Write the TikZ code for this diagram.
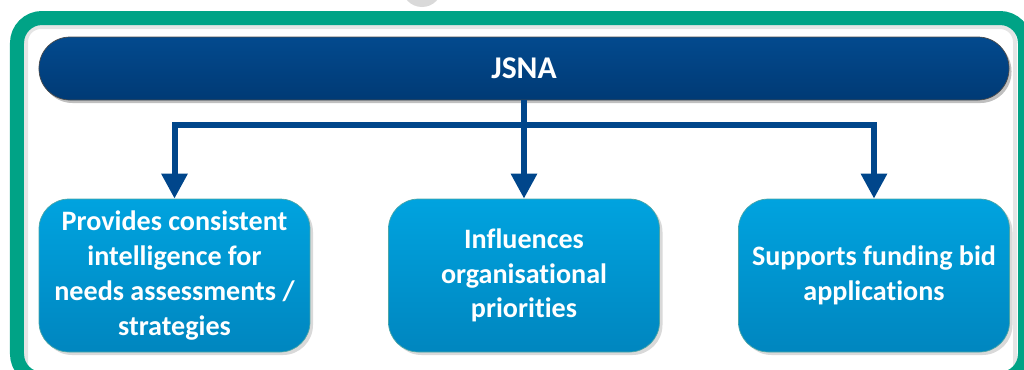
\documentclass[tikz,border=0pt]{standalone}
\usepackage{fontspec}
\setmainfont{Carlito}[Ligatures=NoCommon]
\usetikzlibrary{arrows.meta,shadows}
\definecolor{verdemarco}{HTML}{00A386}
\definecolor{azulosc}{HTML}{034A8E}
\definecolor{azulosc2}{HTML}{003A75}
\definecolor{azulclaro}{HTML}{00A3DF}
\definecolor{azulclaro2}{HTML}{0086BF}
\definecolor{flechaazul}{HTML}{00468B}
\begin{document}
\begin{tikzpicture}[
every node/.style={font=\fontsize{16}{19.8}\selectfont\bfseries, text=white},
barra/.style={draw=black!70, line width=0.4pt, top color=azulosc, bottom color=azulosc2,
  rounded corners=0.62cm, minimum width=19.4cm, minimum height=1.26cm,
  font=\fontsize{18}{22}\selectfont\bfseries,
  drop shadow={shadow xshift=0.05cm, shadow yshift=-0.06cm, fill=black!25, opacity=1}},
caja/.style={draw=teal!70, line width=0.4pt, top color=azulclaro, bottom color=azulclaro2,
  rounded corners=0.6cm, minimum width=5.42cm, minimum height=3.06cm, align=center,
  drop shadow={shadow xshift=0.06cm, shadow yshift=-0.06cm, fill=black!15, opacity=1}},
flecha/.style={draw=flechaazul, line width=0.12cm, -{Triangle[width=0.5cm,length=0.5cm]}},
linea/.style={draw=flechaazul, line width=0.12cm}
]
\useasboundingbox (0,0) rectangle (20.48,7.38);
\clip (0,0) rectangle (20.48,7.38);
% Fondo
\fill[black!15] (8.44,7.64) circle (0.4);
\draw[black!10, line width=0.08cm, rounded corners=0.3cm] (0.52,-0.3) rectangle (20.3,6.84);
\draw[verdemarco, line width=0.28cm, rounded corners=0.5cm] (0.34,-0.2) rectangle (20.5,7.02);
% Titulo
\node[barra] (jsna) at (10.48,6.01) {JSNA};
% Cajas
\node[caja] (caja1) at (3.49,1.87) {Provides consistent\\intelligence for\\needs assessments /\\strategies};
\node[caja] (caja2) at (10.48,1.87) {Influences\\organisational\\priorities};
\node[caja] (caja3) at (17.48,1.87) {Supports funding bid\\applications};
% Aristas
\coordinate (reparto) at (10.48,4.88);
\draw[linea] (jsna.south) -- (reparto);
\draw[linea] (caja1.north |- reparto) -- (caja3.north |- reparto);
\draw[flecha] (reparto) -| (caja1.north);
\draw[flecha] (reparto) -- (caja2.north);
\draw[flecha] (reparto) -| (caja3.north);
\end{tikzpicture}
\end{document}
